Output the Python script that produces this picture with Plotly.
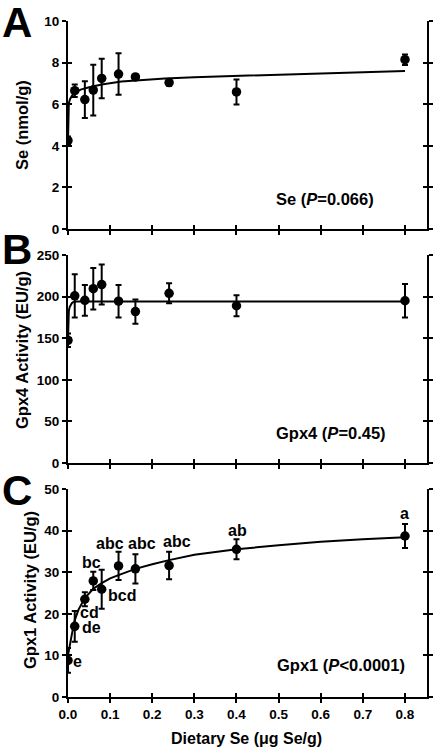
import plotly.graph_objects as go

# ---------------- data ----------------
dose = [0, 0.016, 0.04, 0.06, 0.08, 0.12, 0.16, 0.24, 0.4, 0.8]

se_mean = [4.25, 6.65, 6.22, 6.68, 7.24, 7.45, 7.31, 7.04, 6.59, 8.14]
se_err = [0.2, 0.3, 0.88, 1.22, 0.95, 1.0, 0.12, 0.15, 0.6, 0.25]

gpx4_mean = [147.5, 201, 195.5, 209.5, 214.5, 194.5, 182, 204, 189, 195]
gpx4_err = [8, 26, 18.5, 25, 24, 19.5, 14.5, 12, 12.5, 20]

gpx1_mean = [8.8, 17.0, 23.5, 27.9, 25.9, 31.5, 30.8, 31.6, 35.5, 38.7]
gpx1_err = [3.0, 3.7, 1.7, 2.2, 4.7, 3.4, 3.5, 3.3, 2.4, 2.9]

# fitted curves, read as points from the picture
se_fit_x = [0, 0.0005, 0.001, 0.002, 0.005, 0.01, 0.016, 0.03, 0.048, 0.08, 0.127, 0.18, 0.23, 0.3, 0.4, 0.6, 0.8]
se_fit_y = [4.25, 5.2, 5.8, 6.05, 6.25, 6.42, 6.55, 6.7, 6.8, 6.95, 7.09, 7.17, 7.24, 7.3, 7.36, 7.48, 7.6]

gpx4_fit_x = [0, 0.0005, 0.001, 0.002, 0.004, 0.006, 0.009, 0.012, 0.016, 0.02, 0.8]
gpx4_fit_y = [147.5, 168, 176, 183, 187.5, 190, 192, 193.2, 193.8, 194, 194]

gpx1_fit_x = [0, 0.004, 0.009, 0.016, 0.025, 0.04, 0.06, 0.08, 0.1, 0.12, 0.16, 0.2, 0.24, 0.3, 0.4, 0.5, 0.6, 0.7, 0.8]
gpx1_fit_y = [10.0, 12.5, 15.0, 18.5, 21.0, 23.8, 26.0, 27.4, 28.5, 29.3, 30.8, 31.9, 32.9, 34.2, 35.5, 36.5, 37.3, 37.9, 38.4]

gpx1_letters = ["e", "de", "cd", "bc", "bcd", "abc", "abc", "abc", "ab", "a"]
gpx1_letter_x = [0.023, 0.056, 0.051, 0.056, 0.129, 0.1005, 0.176, 0.259, 0.402, 0.8]
gpx1_letter_y = [8.5, 16.6, 20.3, 32.3, 24.3, 36.9, 36.9, 37.5, 40.0, 44.2]

panel_letters = ["A", "B", "C"]
y_titles = ["Se (nmol/g)", "Gpx4 Activity (EU/g)", "Gpx1 Activity (EU/g)"]
p_labels = ["Se (<i>P</i>=0.066)", "Gpx4 (<i>P</i>=0.45)", "Gpx1 (<i>P</i><0.0001)"]
y_max = [10, 250, 50]
y_dtick = [2, 50, 10]
x_title = "Dietary Se (μg Se/g)"

# ---------------- layout geometry ----------------
W, H = 433, 750
FONT = "Liberation Sans"
x_dom = [68 / W, 427.3 / W]
y_px = [(21, 229), (255, 463), (489, 697)]  # top, bottom pixel of each panel
y_doms = [[1 - b / H, 1 - t / H] for t, b in y_px]
x_range = [0, 0.853]

fig = go.Figure()

means = [se_mean, gpx4_mean, gpx1_mean]
errs = [se_err, gpx4_err, gpx1_err]
fits = [(se_fit_x, se_fit_y), (gpx4_fit_x, gpx4_fit_y), (gpx1_fit_x, gpx1_fit_y)]


def ghost(xa, ya):
    return go.Scatter(x=[0], y=[0], mode="markers", marker=dict(opacity=0),
                      xaxis=xa, yaxis=ya, showlegend=False, hoverinfo="skip")


for i in range(3):
    n = i + 1
    xa, ya = f"x{n}", f"y{n}"
    fig.add_trace(go.Scatter(x=fits[i][0], y=fits[i][1], mode="lines",
                             line=dict(color="black", width=2),
                             xaxis=xa, yaxis=ya, showlegend=False, hoverinfo="skip"))
    fig.add_trace(go.Scatter(x=dose, y=means[i], mode="markers",
                             marker=dict(color="black", size=9.5),
                             error_y=dict(type="data", array=errs[i], color="black",
                                          thickness=2, width=3),
                             xaxis=xa, yaxis=ya, showlegend=False))
    # invisible traces for the extra tick axes
    fig.add_trace(ghost(f"x{n+3}", f"y{n+3}"))
    fig.add_trace(ghost(f"x{n}", f"y{n+6}"))
    fig.add_trace(ghost(f"x{n}", f"y{n+9}"))

tickfont = dict(family=FONT, size=13.5, color="black", weight="bold")
layout = dict(width=W, height=H, margin=dict(l=0, r=0, t=0, b=0),
              paper_bgcolor="white", plot_bgcolor="white", showlegend=False)

for i in range(3):
    n = i + 1
    common_x = dict(range=x_range, tick0=0, dtick=0.1, showgrid=False, zeroline=False,
                    tickcolor="black", ticklen=4, tickwidth=2)
    common_y = dict(range=[0, y_max[i]], tick0=0, dtick=y_dtick[i], showgrid=False,
                    zeroline=False, tickcolor="black", ticklen=4, tickwidth=2)
    layout[f"xaxis{n}"] = dict(domain=x_dom, anchor=f"y{n}", ticks="outside",
                               showline=True, linecolor="black", linewidth=2,
                               showticklabels=(n == 3), tickformat=".1f",
                               tickfont=tickfont, automargin=False, **common_x)
    layout[f"yaxis{n}"] = dict(domain=y_doms[i], anchor=f"x{n}", ticks="outside",
                               showline=True, linecolor="black", linewidth=2,
                               tickfont=tickfont, automargin=False, **common_y)
    layout[f"xaxis{n+3}"] = dict(overlaying=f"x{n}", anchor=f"y{n}", ticks="inside",
                                 showline=False, showticklabels=False, **common_x)
    layout[f"yaxis{n+3}"] = dict(overlaying=f"y{n}", anchor=f"x{n}", ticks="inside",
                                 side="left", showline=False,
                                 showticklabels=False, **common_y)
    # right-hand axis: line + crossing ticks, no labels
    layout[f"yaxis{n+6}"] = dict(overlaying=f"y{n}", anchor=f"x{n}", side="right",
                                 ticks="outside", showline=True, linecolor="black",
                                 linewidth=2, showticklabels=False, **common_y)
    layout[f"yaxis{n+9}"] = dict(overlaying=f"y{n}", anchor=f"x{n}", side="right",
                                 ticks="inside", showline=False,
                                 showticklabels=False, **common_y)

fig.update_layout(**layout)

ann = []
# panel letters
letter_cy = [22.5, 249, 490]
for i in range(3):
    ann.append(dict(text=f"<b>{panel_letters[i]}</b>", xref="paper", yref="paper",
                    x=0, y=1 - letter_cy[i] / H, xanchor="left", yanchor="middle",
                    showarrow=False, font=dict(family=FONT, size=42, color="black")))
# y titles
title_cx = [22, 22, 30]
title_cy = [125, 350, 590]
for i in range(3):
    ann.append(dict(text=f"<b>{y_titles[i]}</b>", xref="paper", yref="paper",
                    x=title_cx[i] / W, y=1 - title_cy[i] / H, textangle=-90,
                    xanchor="center", yanchor="middle", showarrow=False,
                    font=dict(family=FONT, size=16.5, color="black")))
# P-value labels (data coords)
p_x = [0.61, 0.625, 0.648]
p_y = [1.44, 36.4, 7.7]
for i in range(3):
    n = i + 1
    ann.append(dict(text=f"<b>{p_labels[i]}</b>", xref=f"x{n}", yref=f"y{n}",
                    x=p_x[i], y=p_y[i], xanchor="center", yanchor="middle",
                    showarrow=False, font=dict(family=FONT, size=16.5, color="black")))
# significance letters
for t, lx, ly in zip(gpx1_letters, gpx1_letter_x, gpx1_letter_y):
    ann.append(dict(text=f"<b>{t}</b>", xref="x3", yref="y3", x=lx, y=ly,
                    xanchor="center", yanchor="middle", showarrow=False,
                    font=dict(family=FONT, size=16, color="black")))
# x title
ann.append(dict(text=f"<b>{x_title}</b>", xref="paper", yref="paper",
                x=247 / W, y=1 - 738 / H, xanchor="center", yanchor="middle",
                showarrow=False, font=dict(family=FONT, size=16, color="black")))

fig.update_layout(annotations=ann)
fig.write_html("out.html", config={"displayModeBar": False},
               post_script="document.body.style.margin='0px';document.body.style.overflow='hidden';")
